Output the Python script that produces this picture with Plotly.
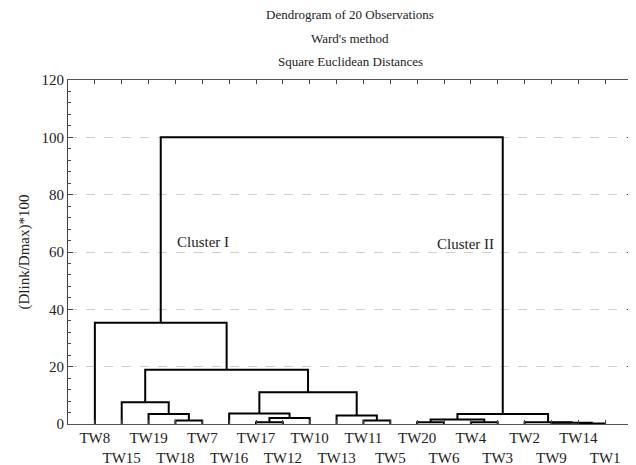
import plotly.graph_objects as go

# Leaf order along the x axis
leaves = ["TW8", "TW15", "TW19", "TW18", "TW7", "TW16", "TW17", "TW12", "TW10", "TW13",
          "TW11", "TW5", "TW20", "TW6", "TW4", "TW3", "TW2", "TW9", "TW14", "TW1"]

# Merges: (left member, right member, linkage distance (Dlink/Dmax)*100)
merge_left = ["TW18", "TW19", "TW15", "TW17", "C4", "TW16", "TW11", "TW13", "C6", "C3", "TW8",
              "TW20", "TW4", "C12", "TW14", "TW9", "TW2", "C14", "C11"]
merge_right = ["TW7", "C1", "C2", "TW12", "TW10", "C5", "TW5", "C7", "C8", "C9", "C10",
               "TW6", "TW3", "C13", "TW1", "C15", "C16", "C17", "C18"]
merge_height = [1.2, 3.5, 7.6, 0.6, 2.1, 3.7, 1.2, 3.0, 11.1, 18.9, 35.3,
                0.6, 0.6, 1.6, 0.2, 0.4, 0.6, 3.5, 100.0]

y_ticks = [0, 20, 40, 60, 80, 100, 120]

pos = {name: i + 1 for i, name in enumerate(leaves)}
hgt = {name: 0.0 for name in leaves}
xs, ys = [], []
for k, (a, b, h) in enumerate(zip(merge_left, merge_right, merge_height), start=1):
    xa, xb = pos[a], pos[b]
    xs += [xa, xa, xb, xb, None]
    ys += [hgt[a], h, h, hgt[b], None]
    pos[f"C{k}"] = (xa + xb) / 2
    hgt[f"C{k}"] = h

ticktext = [name if i % 2 == 0 else "<br>" + name for i, name in enumerate(leaves)]

fig = go.Figure()
fig.add_trace(go.Scatter(x=xs, y=ys, mode="lines",
                         line=dict(color="black", width=2), hoverinfo="skip",
                         showlegend=False))

FONT = "Liberation Serif, Times New Roman, serif"
fig.update_layout(
    width=628, height=457,
    margin=dict(l=60, r=4, t=72, b=41, autoexpand=False),
    paper_bgcolor="white", plot_bgcolor="white",
    font=dict(family=FONT, size=15, color="#222"),
    showlegend=False,
)
fig.update_xaxes(
    range=[0, 21], tickvals=list(range(1, 21)), ticktext=ticktext, tickangle=0,
    automargin=False, ticklabelstandoff=0,
    ticks="inside", ticklen=4, tickcolor="#444", showgrid=False,
    showline=True, linecolor="#555", linewidth=1, mirror="ticks",
    zeroline=False, tickfont=dict(size=15, family=FONT),
)
fig.update_yaxes(
    range=[0, 120], tickvals=y_ticks, automargin=False,
    ticks="inside", ticklen=5, tickcolor="#444",
    minor=dict(dtick=4, ticks="inside", ticklen=3, tickcolor="#444", showgrid=False),
    showgrid=True, gridcolor="#cfcfcf", griddash="dash", gridwidth=1,
    showline=True, linecolor="#444", linewidth=1, mirror="allticks",
    zeroline=False, tickfont=dict(size=15, family=FONT),
    title=dict(text="(Dlink/Dmax)*100", font=dict(size=15, family=FONT), standoff=8),
)

titles = ["Dendrogram of 20 Observations", "Ward's method", "Square Euclidean Distances"]
for t, yp in zip(titles, [1.189, 1.122, 1.055]):
    fig.add_annotation(text=t, xref="paper", yref="paper", x=0.5, y=yp,
                       showarrow=False, font=dict(size=13, family=FONT, color="#222"),
                       xanchor="center", yanchor="middle")

cluster_labels = ["Cluster I", "Cluster II"]
cluster_x = [3.98, 13.65]
cluster_y = [63.4, 62.7]
for t, cx, cy in zip(cluster_labels, cluster_x, cluster_y):
    fig.add_annotation(text=t, x=cx, y=cy, showarrow=False, xanchor="left",
                       yanchor="middle", font=dict(size=15, family=FONT, color="#222"))

fig.write_html("out.html")
